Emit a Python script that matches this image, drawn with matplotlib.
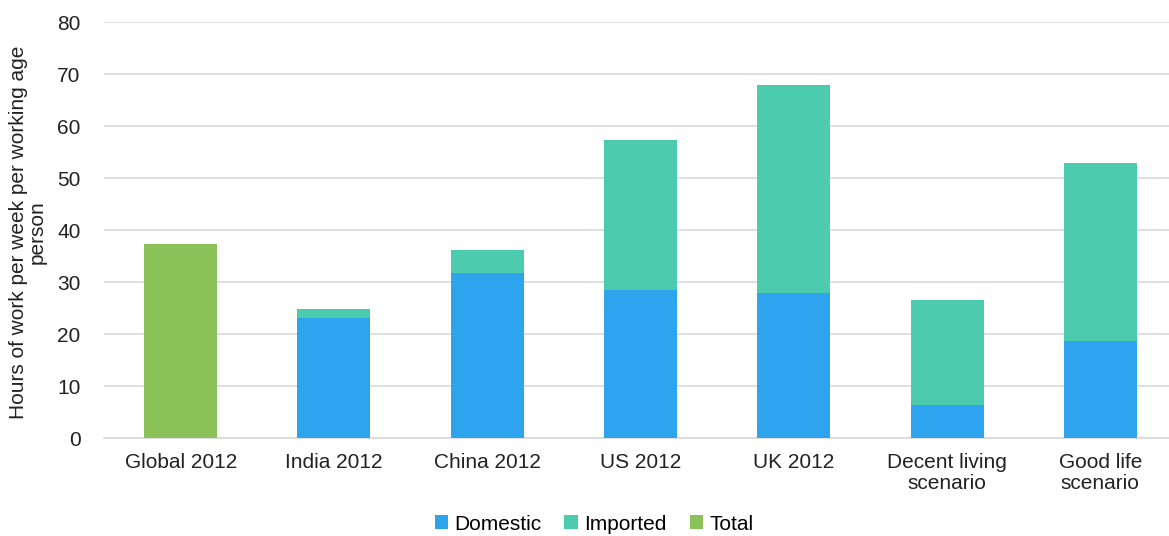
import matplotlib
matplotlib.use("Agg")
import matplotlib.pyplot as plt
import numpy as np

categories = ["Global 2012", "India 2012", "China 2012", "US 2012", "UK 2012",
              "Decent living\nscenario", "Good life\nscenario"]
domestic = [0, 23.1, 31.8, 28.5, 27.9, 6.35, 18.65]
imported = [0, 1.7, 4.4, 28.9, 39.9, 20.15, 34.15]
total = [37.3, 0, 0, 0, 0, 0, 0]
yticks = [0, 10, 20, 30, 40, 50, 60, 70, 80]

plt.rcParams['font.family'] = ['Liberation Sans', 'DejaVu Sans']

fig = plt.figure(figsize=(11.69, 5.36), dpi=100)
W, H = 1169, 536
ax = fig.add_axes([104 / W, 98 / H, 1073 / W, 416 / H])

x = np.arange(len(categories))
bw = 0.476
c_dom, c_imp, c_tot = "#2EA3EE", "#4DCBAE", "#8AC159"
ax.bar(x, domestic, bw, color=c_dom, label="Domestic", zorder=3)
ax.bar(x, imported, bw, bottom=domestic, color=c_imp, label="Imported", zorder=3)
ax.bar(x, total, bw, color=c_tot, label="Total", zorder=3)

ax.set_xlim(-0.5, len(categories) - 0.5)
ax.set_ylim(0, 80)
ax.set_yticks(yticks)
ax.yaxis.grid(True, color="#d9d9d9", linewidth=1.2, zorder=0)
ax.set_axisbelow(True)
for s in ["top", "right", "left"]:
    ax.spines[s].set_visible(False)
ax.spines["bottom"].set_color("#d9d9d9")
ax.spines["bottom"].set_linewidth(1.2)
ax.set_xticks(x)
ax.set_xticklabels(categories, fontsize=15, color="#222222", linespacing=1.1)
ax.tick_params(axis="both", length=0, labelsize=15, colors="#222222")
ax.tick_params(axis="x", pad=11)
ax.tick_params(axis="y", pad=17)

fig.text(28 / W, (536 - 232) / H, "Hours of work per week per working age\nperson",
         rotation=90, ha="center", va="center", fontsize=15, color="#222222",
         linespacing=1.0)

fig.legend(loc="center", bbox_to_anchor=(594 / W, (536 - 524) / H), ncol=3,
           frameon=False, fontsize=15, handlelength=0.65, handleheight=0.65,
           handletextpad=0.3, columnspacing=1.1)

fig.savefig("out.png", dpi=100)
